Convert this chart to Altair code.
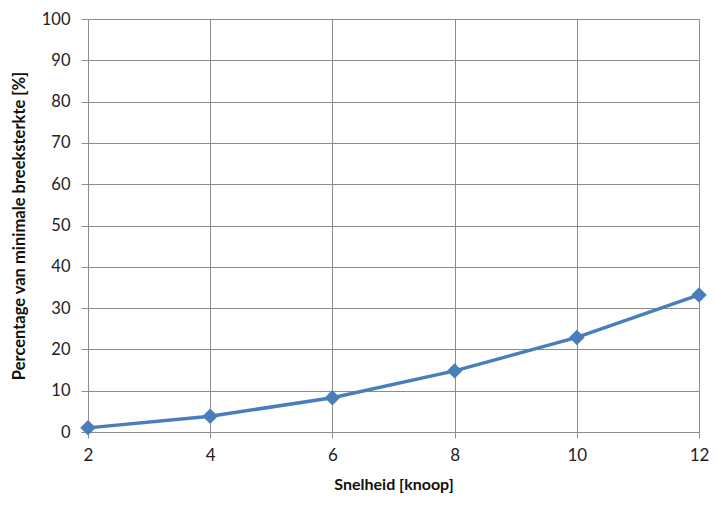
import altair as alt
import pandas as pd

snelheid = [2, 4, 6, 8, 10, 12]
percentage = [1.0, 3.8, 8.3, 14.8, 22.9, 33.2]
x_ticks = [2, 4, 6, 8, 10, 12]
y_ticks = [0, 10, 20, 30, 40, 50, 60, 70, 80, 90, 100]

df = pd.DataFrame({"Snelheid": snelheid, "Percentage": percentage})

FONT = "Lato"
GRID = "#8c8c8c"
BLUE = "#4a7ebb"

x = alt.X("Snelheid:Q",
          scale=alt.Scale(domain=[2, 12], nice=False, zero=False),
          axis=alt.Axis(title="Snelheid [knoop]", values=x_ticks, grid=True,
                        gridColor=GRID, tickColor=GRID, domainColor=GRID,
                        tickSize=6, labelPadding=9, titlePadding=13,
                        labelFontSize=17, titleFontSize=16, labelColor="#222",
                        titleColor="#111", labelFont=FONT, titleFont=FONT,
                        titleFontWeight="bold", labelFlush=False))
y = alt.Y("Percentage:Q",
          scale=alt.Scale(domain=[0, 100], nice=False),
          axis=alt.Axis(title="Percentage van minimale breeksterkte [%]", values=y_ticks,
                        grid=True, gridColor=GRID, tickColor=GRID, domainColor=GRID,
                        tickSize=7, labelPadding=11, titlePadding=14,
                        labelFontSize=16.5, titleFontSize=16.5, labelColor="#222",
                        titleColor="#111", labelFont=FONT, titleFont=FONT,
                        titleFontWeight="bold", labelFlush=False))

line = alt.Chart(df).mark_line(color=BLUE, strokeWidth=3.5).encode(x=x, y=y)
pts = alt.Chart(df).mark_point(shape="diamond", filled=True, color=BLUE,
                               size=240, opacity=1).encode(x=x, y=y)

chart = (line + pts).properties(
    width=611, height=413,
    autosize=alt.AutoSizeParams(type="none"),
    padding={"left": 80, "top": 11, "right": 10, "bottom": 67},
).configure_view(stroke=GRID, strokeWidth=1).configure(background="white")

chart.save("out.html", embed_options={"renderer": "svg", "actions": False})
